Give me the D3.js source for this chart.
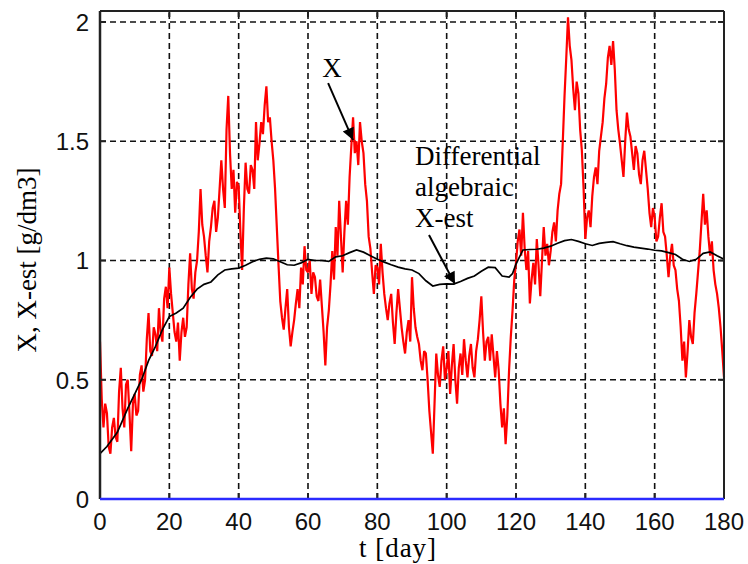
<!DOCTYPE html>
<html>
<head>
<meta charset="utf-8">
<script src="https://cdn.jsdelivr.net/npm/d3@7"></script>
<style>
  html, body { margin: 0; padding: 0; background: #fff; }
  svg { display: block; }
</style>
</head>
<body>
<svg id="chart" width="748" height="564"></svg>
<script>
// measured state X, two samples per day (t = 0, 0.5, ... 180)
const measuredX = [
  0.66, 0.42, 0.30, 0.40, 0.36, 0.22, 0.19, 0.30, 0.34, 0.26,
  0.24, 0.45, 0.55, 0.38, 0.30, 0.48, 0.50, 0.36, 0.20, 0.40,
  0.44, 0.35, 0.37, 0.52, 0.56, 0.45, 0.50, 0.67, 0.78, 0.62,
  0.60, 0.72, 0.69, 0.62, 0.80, 0.70, 0.66, 0.84, 0.89, 0.80,
  0.97, 0.86, 0.78, 0.70, 0.66, 0.74, 0.58, 0.70, 0.76, 0.68,
  0.72, 0.90, 1.03, 0.88, 0.84, 0.95, 1.00, 1.12, 1.30, 1.15,
  1.10, 1.02, 0.95, 1.08, 1.14, 1.22, 1.25, 1.12, 1.18, 1.30,
  1.42, 1.30, 1.22, 1.55, 1.69, 1.45, 1.30, 1.38, 1.20, 1.33,
  1.31, 1.12, 0.96, 1.22, 1.41, 1.30, 1.28, 1.40, 1.38, 1.30,
  1.58, 1.42, 1.49, 1.58, 1.53, 1.65, 1.73, 1.58, 1.60, 1.50,
  1.42, 1.30, 1.14, 0.98, 0.83, 0.76, 0.71, 0.80, 0.88, 0.72,
  0.64, 0.70, 0.75, 0.82, 0.88, 0.80, 0.97, 0.90, 1.06, 0.96,
  0.95, 1.00, 0.86, 0.95, 0.93, 0.85, 0.83, 0.92, 0.81, 0.70,
  0.56, 0.72, 0.79, 0.90, 1.04, 0.92, 1.14, 1.02, 1.25, 1.10,
  0.95, 1.12, 1.25, 1.15, 1.35, 1.48, 1.60, 1.45, 1.50, 1.40,
  1.58, 1.50, 1.45, 1.32, 1.25, 1.10, 1.05, 0.95, 0.86, 0.98,
  0.97, 0.90, 1.07, 0.95, 0.86, 0.80, 0.75, 0.82, 0.86, 0.74,
  0.65, 0.78, 0.88, 0.80, 0.72, 0.66, 0.61, 0.70, 0.75, 0.66,
  0.93, 0.80, 0.72, 0.68, 0.65, 0.58, 0.54, 0.62, 0.61, 0.50,
  0.37, 0.28, 0.19, 0.40, 0.61, 0.52, 0.47, 0.58, 0.64, 0.50,
  0.55, 0.62, 0.44, 0.56, 0.65, 0.50, 0.40, 0.55, 0.61, 0.52,
  0.67, 0.58, 0.51, 0.60, 0.65, 0.55, 0.51, 0.62, 0.67, 0.75,
  0.85, 0.70, 0.58, 0.66, 0.68, 0.58, 0.69, 0.60, 0.51, 0.62,
  0.54, 0.40, 0.30, 0.38, 0.23, 0.35, 0.54, 0.68, 0.79, 0.92,
  0.99, 1.08, 1.13, 1.02, 1.20, 1.05, 0.96, 1.04, 0.82, 0.92,
  0.99, 0.90, 1.09, 0.98, 0.85, 1.00, 1.14, 1.02, 1.07, 0.98,
  1.04, 1.12, 1.16, 1.08, 1.21, 1.28, 1.32, 1.50, 1.69, 1.85,
  2.02, 1.90, 1.84, 1.72, 1.63, 1.75, 1.70, 1.55, 1.46, 1.30,
  1.09, 1.18, 1.21, 1.14, 1.27, 1.35, 1.39, 1.32, 1.46, 1.52,
  1.58, 1.68, 1.74, 1.85, 1.90, 1.82, 1.92, 1.80, 1.63, 1.55,
  1.49, 1.42, 1.35, 1.50, 1.62, 1.55, 1.52, 1.45, 1.38, 1.48,
  1.45, 1.36, 1.32, 1.42, 1.46, 1.38, 1.30, 1.20, 1.14, 1.22,
  1.18, 1.08, 1.10, 1.18, 1.24, 1.12, 1.10, 1.02, 0.93, 1.02,
  1.07, 0.98, 0.96, 0.88, 0.83, 0.72, 0.58, 0.66, 0.51, 0.62,
  0.75, 0.68, 0.65, 0.78, 0.86, 0.95, 1.04, 1.16, 1.28, 1.15,
  1.21, 1.10, 1.02, 1.08, 0.96, 0.90, 0.86, 0.80, 0.72, 0.62,
  0.51
]
const sampleStep = 0.5

// differential algebraic estimate X-est
const estDays = [
  0, 2, 5, 8, 10, 12, 14, 16, 18, 20, 22, 24, 26, 28, 30, 32, 34, 36, 38, 40,
  42, 44, 46, 48, 50, 52, 54, 56, 58, 60, 62, 64, 66, 68, 70, 72, 74, 76, 78, 80,
  82, 84, 86, 88, 90, 92, 94, 96, 98, 100, 102, 104, 106, 108, 110, 112, 114, 116, 118, 119,
  120, 122, 124, 126, 128, 130, 132, 134, 136, 138, 140, 142, 144, 146, 148, 150, 152, 154, 156, 158,
  160, 162, 164, 166, 168, 170, 172, 174, 176, 178, 180
]
const estX = [
  0.19, 0.22, 0.28, 0.38, 0.44, 0.50, 0.58, 0.64, 0.71, 0.765, 0.78, 0.80, 0.845, 0.88, 0.90, 0.91, 0.94, 0.96, 0.965, 0.968,
  0.98, 0.995, 1.005, 1.01, 1.007, 0.995, 0.982, 0.98, 0.99, 1.005, 1.0, 1.0, 0.996, 1.015, 1.02, 1.033, 1.044, 1.035, 1.02, 1.005,
  0.993, 0.982, 0.972, 0.965, 0.96, 0.945, 0.915, 0.893, 0.90, 0.902, 0.901, 0.912, 0.925, 0.935, 0.955, 0.972, 0.97, 0.935, 0.93, 0.945,
  0.985, 1.044, 1.046, 1.047, 1.052, 1.06, 1.072, 1.083, 1.088, 1.08, 1.07, 1.063, 1.072, 1.076, 1.079, 1.07, 1.062, 1.056, 1.052, 1.048,
  1.043, 1.04, 1.033, 1.025, 1.005, 0.996, 1.005, 1.03, 1.036, 1.02, 1.005
]

const xTicks = [0, 20, 40, 60, 80, 100, 120, 140, 160, 180]
const yTicks = [0, 0.5, 1, 1.5, 2]
const yTickLabels = ['0', '0.5', '1', '1.5', '2']

const svg = d3.select('#chart')

const x = d3.scaleLinear().domain([0, 180]).range([100, 724])
const y = d3.scaleLinear().domain([0, 2.046]).range([499, 11])

const serif = '"Liberation Serif", "Times New Roman", serif'
const sans = '"Liberation Sans", Arial, sans-serif'

svg.append('rect')
  .attr('width', 748)
  .attr('height', 564)
  .attr('fill', '#fff')

// dashed grid
const grid = svg.append('g').attr('class', 'grid')
grid.selectAll('.vgrid')
  .data(xTicks.slice(1, -1))
  .enter()
  .append('line')
  .attr('x1', d => x(d))
  .attr('x2', d => x(d))
  .attr('y1', y(0))
  .attr('y2', y(2.046))
  .attr('stroke', '#111')
  .attr('stroke-width', 1.6)
  .attr('stroke-dasharray', '6,4')
grid.selectAll('.hgrid')
  .data(yTicks.slice(1))
  .enter()
  .append('line')
  .attr('x1', x(0))
  .attr('x2', x(180))
  .attr('y1', d => y(d))
  .attr('y2', d => y(d))
  .attr('stroke', '#111')
  .attr('stroke-width', 1.6)
  .attr('stroke-dasharray', '6,4')

// X, red
const line = d3.line()
  .x((d, i) => x(i * sampleStep))
  .y(d => y(d))

svg.append('path')
  .datum(measuredX)
  .attr('d', line)
  .attr('fill', 'none')
  .attr('stroke', '#ff0000')
  .attr('stroke-width', 2.2)
  .attr('stroke-linejoin', 'bevel')

// X-est, black
const estLine = d3.line()
  .x((d, i) => x(estDays[i]))
  .y(d => y(d))

svg.append('path')
  .datum(estX)
  .attr('d', estLine)
  .attr('fill', 'none')
  .attr('stroke', '#000')
  .attr('stroke-width', 1.7)

// axes box
const box = svg.append('g').attr('fill', 'none').attr('stroke', '#222')
box.append('line')
  .attr('x1', x(0)).attr('x2', x(180))
  .attr('y1', y(2.046)).attr('y2', y(2.046))
  .attr('stroke-width', 2)
box.append('line')
  .attr('x1', x(180)).attr('x2', x(180))
  .attr('y1', y(2.046)).attr('y2', y(0))
  .attr('stroke-width', 2)
box.append('line')
  .attr('x1', x(0)).attr('x2', x(0))
  .attr('y1', y(2.046)).attr('y2', y(0))
  .attr('stroke-width', 2.5)

// inward tick marks on all sides
box.selectAll('.tb')
  .data(xTicks.slice(1, -1))
  .enter()
  .append('path')
  .attr('d', d => `M${x(d)},${y(2.046)}v6M${x(d)},${y(0)}v-6`)
  .attr('stroke-width', 2)
box.selectAll('.tl')
  .data(yTicks.slice(1))
  .enter()
  .append('path')
  .attr('d', d => `M${x(0)},${y(d)}h6M${x(180)},${y(d)}h-6`)
  .attr('stroke-width', 2)

// zero line, blue
svg.append('line')
  .attr('x1', x(0))
  .attr('x2', x(180))
  .attr('y1', y(0))
  .attr('y2', y(0))
  .attr('stroke', '#2b2bff')
  .attr('stroke-width', 2.5)

// tick labels
svg.selectAll('.xlab')
  .data(xTicks)
  .enter()
  .append('text')
  .attr('x', d => x(d))
  .attr('y', 530)
  .attr('text-anchor', 'middle')
  .style('font-family', sans)
  .style('font-size', '24px')
  .style('fill', '#111')
  .text(d => d)

svg.selectAll('.ylab')
  .data(yTicks)
  .enter()
  .append('text')
  .attr('x', 89)
  .attr('y', d => y(d) + 9)
  .attr('text-anchor', 'end')
  .style('font-family', sans)
  .style('font-size', '24px')
  .style('fill', '#111')
  .text((d, i) => yTickLabels[i])

// axis titles
svg.append('text')
  .attr('x', 398)
  .attr('y', 557)
  .attr('text-anchor', 'middle')
  .style('font-family', serif)
  .style('font-size', '27px')
  .style('letter-spacing', '1px')
  .text('t [day]')

svg.append('text')
  .attr('transform', 'translate(36,260) rotate(-90)')
  .attr('text-anchor', 'middle')
  .style('font-family', serif)
  .style('font-size', '27px')
  .text('X, X-est [g/dm3]')

// annotations
const defs = svg.append('defs')
defs.append('marker')
  .attr('id', 'head')
  .attr('viewBox', '0 0 10 10')
  .attr('refX', 10)
  .attr('refY', 5)
  .attr('markerWidth', 7)
  .attr('markerHeight', 6)
  .attr('markerUnits', 'strokeWidth')
  .attr('orient', 'auto')
  .append('path')
  .attr('d', 'M0,0L10,5L0,10z')
  .attr('fill', '#000')

const arrows = [
  { from: [65.8, 1.744], to: [73.0, 1.505] },
  { from: [94.9, 1.107], to: [102.4, 0.901] }
]
svg.selectAll('.arrow')
  .data(arrows)
  .enter()
  .append('line')
  .attr('x1', d => x(d.from[0]))
  .attr('y1', d => y(d.from[1]))
  .attr('x2', d => x(d.to[0]))
  .attr('y2', d => y(d.to[1]))
  .attr('stroke', '#000')
  .attr('stroke-width', 2)
  .attr('marker-end', 'url(#head)')

svg.append('text')
  .attr('x', x(66.9))
  .attr('y', y(1.77))
  .attr('text-anchor', 'middle')
  .style('font-family', serif)
  .style('font-size', '27px')
  .text('X')

const note = svg.append('text')
  .attr('x', x(90.9))
  .attr('y', y(1.40))
  .style('font-family', serif)
  .style('font-size', '27px')
;['Differential', 'algebraic', 'X-est'].forEach((s, i) => {
  note.append('tspan')
    .attr('x', x(90.9))
    .attr('dy', i === 0 ? 0 : 31)
    .text(s)
})
</script>
</body>
</html>
